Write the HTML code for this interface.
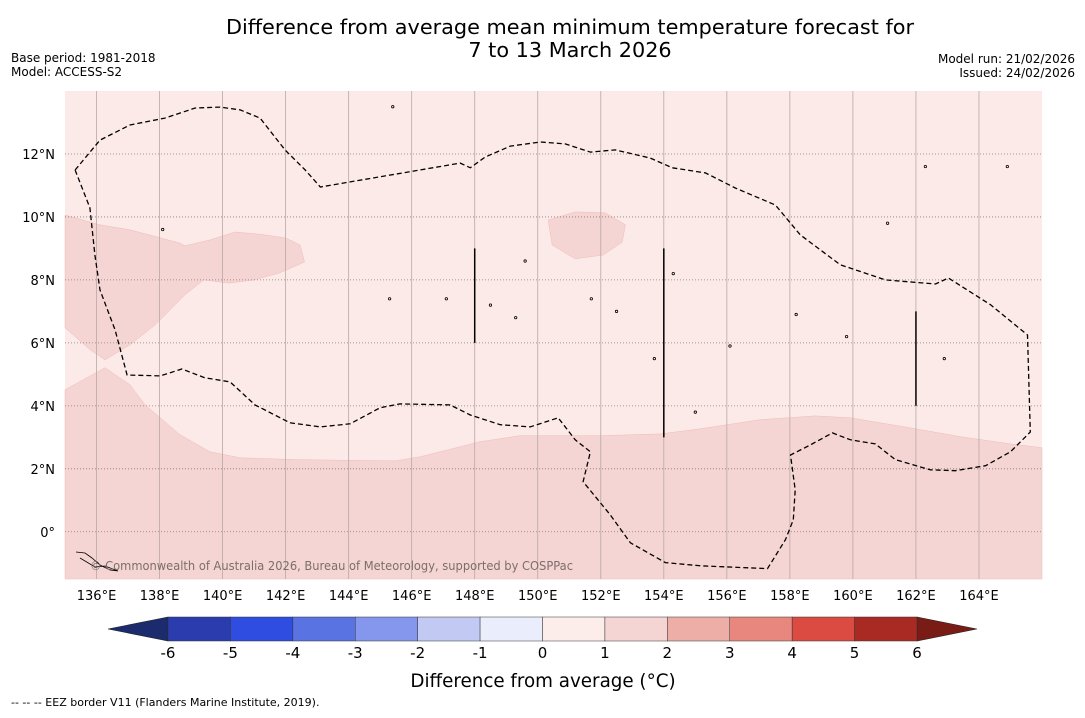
<!DOCTYPE html>
<html><head><meta charset="utf-8"><style>
body{margin:0;background:#fff;width:1085px;height:713px;overflow:hidden;font-family:"Liberation Sans","DejaVu Sans",sans-serif}
svg text{font-family:"DejaVu Sans","Liberation Sans",sans-serif}
</style></head><body>
<svg id="s" width="1085" height="713" xmlns="http://www.w3.org/2000/svg">
<text x="570" y="34" text-anchor="middle" font-size="20.8">Difference from average mean minimum temperature forecast for</text>
<text x="570" y="57" text-anchor="middle" font-size="20.8">7 to 13 March 2026</text>
<text x="11" y="62" font-size="12">Base period: 1981-2018</text>
<text x="11" y="76" font-size="12">Model: ACCESS-S2</text>
<text x="1075" y="63" text-anchor="end" font-size="12">Model run: 21/02/2026</text>
<text x="1075" y="77" text-anchor="end" font-size="12">Issued: 24/02/2026</text>
<g id="map"></g>
<g id="cb"></g>
<text x="543" y="687" text-anchor="middle" font-size="18.3">Difference from average (°C)</text>
<text x="11" y="706" font-size="11">--  --  -- EEZ border V11 (Flanders Marine Institute, 2019).</text>
</svg>
<script>
const lonTicks=[136,138,140,142,144,146,148,150,152,154,156,158,160,162,164];
const latTicks=[0,2,4,6,8,10,12];
const upperRegion=[[135,10.06],[136.1,9.75],[137.06,9.59],[138.65,9.17],[138.8,9.08],[139.6,9.27],[140.4,9.52],[141.2,9.45],[142.0,9.33],[142.46,9.11],[142.6,8.57],[141.8,8.22],[141.0,8.0],[140.2,7.9],[139.4,8.0],[138.8,7.52],[137.86,6.57],[137.06,5.94],[136.27,5.46],[135.8,5.78],[135,6.48]];
const islandRegion=[[150.33,9.9],[151.19,10.16],[152.14,10.13],[152.78,9.75],[152.68,9.2],[152.08,8.79],[151.19,8.67],[150.46,9.11]];
const lowerRegion=[[135,4.51],[136.27,5.21],[137.06,4.67],[137.54,4.03],[138.65,3.08],[139.6,2.54],[140.56,2.35],[142.46,2.29],[145.48,2.25],[146.27,2.38],[148.17,2.86],[149.44,3.05],[151.98,3.05],[153.89,3.11],[155.16,3.27],[157.06,3.56],[158.81,3.68],[159.92,3.62],[161.83,3.3],[163.41,3.02],[165.0,2.79],[166,2.67],[166,-1.5],[135,-1.5]];
const eezLine=[[135.32,11.49],[135.79,10.29],[135.95,8.79],[136.11,7.68],[136.59,6.41],[136.97,4.98],[138.02,4.95],[138.71,5.17],[139.44,4.89],[140.24,4.76],[141.03,4.03],[142.14,3.46],[143.1,3.33],[144.05,3.43],[145.0,3.94],[145.63,4.06],[147.22,4.03],[147.86,3.71],[148.81,3.40],[149.76,3.33],[150.65,3.62],[151.19,2.92],[151.67,2.54],[151.44,1.59],[152.3,0.54],[152.94,-0.35],[154.05,-0.98],[155.16,-1.08],[157.29,-1.17],[157.86,-0.25],[158.11,0.38],[158.17,1.33],[158.02,2.44],[158.65,2.76],[159.35,3.14],[159.92,2.92],[160.71,2.79],[161.35,2.29],[162.46,1.97],[163.25,1.94],[164.21,2.10],[165.0,2.54],[165.63,3.17],[165.54,6.25],[164.37,7.21],[163.03,8.06],[162.62,7.87],[161.03,8.0],[159.6,8.48],[158.33,9.43],[157.54,10.38],[156.27,10.92],[155.32,11.40],[154.27,11.56],[153.57,11.87],[152.46,12.13],[151.67,12.06],[150.87,12.32],[150.08,12.38],[149.13,12.25],[148.33,11.90],[147.86,11.56],[147.54,11.71],[143.1,10.95],[142.62,11.49],[141.98,12.13],[141.19,13.14],[140.56,13.40],[139.92,13.49],[139.13,13.46],[138.17,13.14],[137.06,12.92],[136.11,12.44],[135.32,11.49]];
const segLines=[[148,6,9],[154,3,9],[162,4,7]];
const islands=[[145.4,13.5],[138.1,9.6],[145.3,7.4],[147.1,7.4],[148.5,7.2],[149.3,6.8],[149.6,8.6],[151.7,7.4],[152.5,7.0],[154.3,8.2],[153.7,5.5],[158.2,6.9],[159.8,6.2],[162.9,5.5],[161.1,9.8],[162.3,11.6],[164.9,11.6],[155.0,3.8],[156.1,5.9]];
const cbLevels=[-6,-5,-4,-3,-2,-1,0,1,2,3,4,5,6];
const cbColors=['#2a3cae','#2f4de0','#5a73e3','#8497ec','#c2caf4','#eaedfb','#fcecea','#f5d5d3','#eeaea8','#e8877e','#db4b41','#a92a23'];
const cbLow='#1c2a6e', cbHigh='#7a1c16';

const NS='http://www.w3.org/2000/svg';
const L=65,R=1042,T=91,B=579,lon0=135,lon1=166,lat0=-1.5,lat1=14;
const X=lon=>L+(lon-lon0)/(lon1-lon0)*(R-L);
const Y=lat=>T+(lat1-lat)/(lat1-lat0)*(B-T);
function mk(tag,attrs,parent){const e=document.createElementNS(NS,tag);for(const k in attrs)e.setAttribute(k,attrs[k]);parent.appendChild(e);return e;}
const map=document.getElementById('map');
const bg=mk('rect',{x:L,y:T,width:R-L,height:B-T,fill:'#fbeae8'},map);


const pts=a=>a.map(p=>X(p[0]).toFixed(1)+','+Y(p[1]).toFixed(1)).join(' ');
[[upperRegion,'upper-anomaly-region'],[islandRegion,'island-anomaly-region'],[lowerRegion,'lower-anomaly-region']].forEach(([a,n])=>{
  const p=mk('polygon',{points:pts(a),fill:'#f5d5d3',stroke:'#eebcb8','stroke-width':0.5},map);
  
  
});
lonTicks.forEach(v=>{
  const l=mk('line',{x1:X(v),x2:X(v),y1:T,y2:B,stroke:'#b8a8a6','stroke-width':0.8},map);
  
  
  const t=mk('text',{x:X(v),y:600,'text-anchor':'middle','font-size':13},map);t.textContent=v+'°E';
  
  
});
latTicks.forEach(v=>{
  const l=mk('line',{x1:L,x2:R,y1:Y(v),y2:Y(v),stroke:'#8a7a78','stroke-width':0.8,'stroke-dasharray':'1,2'},map);
  
  
  const t=mk('text',{x:55,y:Y(v)+5,'text-anchor':'end','font-size':13},map);t.textContent=v===0?'0°':v+'°N';
  
  
});
const ez=mk('polyline',{points:pts(eezLine),fill:'none',stroke:'#000','stroke-width':1.3,'stroke-dasharray':'5,3'},map);


segLines.forEach(s=>{
  const l=mk('line',{x1:X(s[0]),x2:X(s[0]),y1:Y(s[2]),y2:Y(s[1]),stroke:'#000','stroke-width':1.5},map);
  
  
});
islands.forEach(p=>{
  const c=mk('circle',{cx:X(p[0]),cy:Y(p[1]),r:1.2,fill:'none',stroke:'#000','stroke-width':0.8},map);
  
  
});
const png=mk('polyline',{points:'76,552 85,553 92,558 100,565 110,570 118,571 105,566 95,567 80,558',fill:'none',stroke:'#000','stroke-width':0.8},map);


const cr=mk('text',{x:90,y:570,'font-size':12,fill:'#7a6e6c',textLength:483,lengthAdjust:'spacingAndGlyphs'},map);cr.textContent='© Commonwealth of Australia 2026, Bureau of Meteorology, supported by COSPPac';



const cb=document.getElementById('cb');
const c0=168,c1=917,cy0=617,cy1=641,tri=60;
const CX=v=>c0+(v-cbLevels[0])/(cbLevels[cbLevels.length-1]-cbLevels[0])*(c1-c0);
const lt=mk('polygon',{points:`${c0},${cy0} ${c0-tri},${(cy0+cy1)/2} ${c0},${cy1}`,fill:cbLow,stroke:'#222','stroke-width':0.6},cb);


const rt=mk('polygon',{points:`${c1},${cy0} ${c1+tri},${(cy0+cy1)/2} ${c1},${cy1}`,fill:cbHigh,stroke:'#222','stroke-width':0.6},cb);


cbColors.forEach((c,i)=>{
  const r=mk('rect',{x:CX(cbLevels[i]),y:cy0,width:CX(cbLevels[i+1])-CX(cbLevels[i]),height:cy1-cy0,fill:c,stroke:'#333','stroke-width':0.5},cb);
  
  
});
cbLevels.forEach(v=>{
  const t=mk('text',{x:CX(v),y:658,'text-anchor':'middle','font-size':15},cb);t.textContent=v;
  
  
});
</script>
</body></html>
